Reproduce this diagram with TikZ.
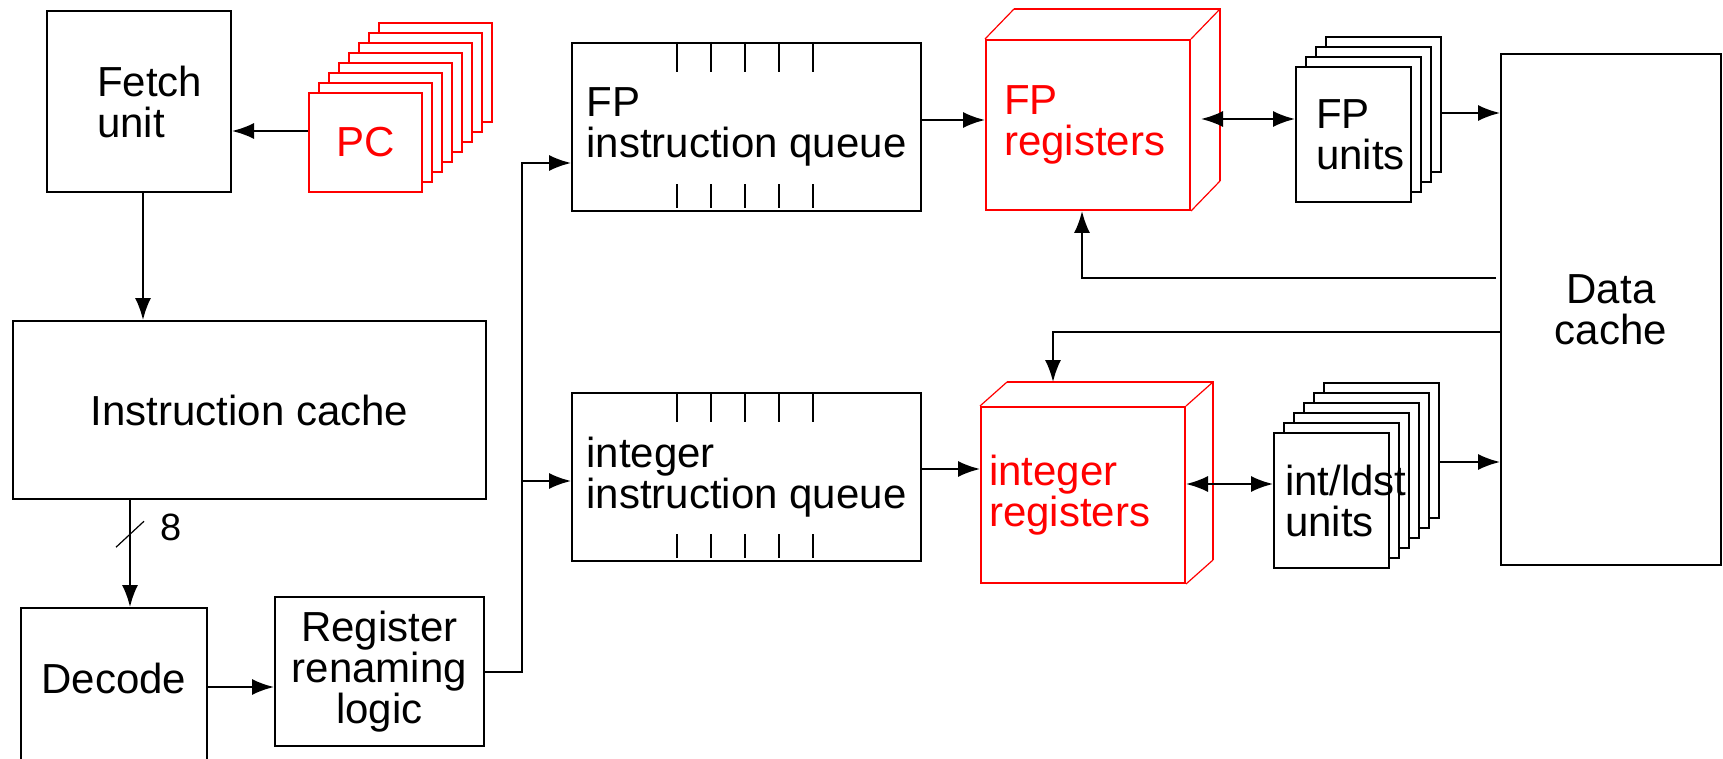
\documentclass[tikz,border=0pt]{standalone}
\usepackage{fontspec}
\setmainfont{Liberation Sans}
\usetikzlibrary{arrows.meta,calc}
\newcommand{\blockfont}{\fontsize{21}{20.5}\selectfont\hyphenpenalty=10000 }
\tikzset{
	blk/.style={rectangle, draw, line width=1pt, fill=white, inner sep=0pt, font=\blockfont},
	redblk/.style={blk, draw=red, text=red},
	arr/.style={line width=1pt, -{Latex[length=11pt,width=8pt]}},
	darr/.style={line width=1pt, {Latex[length=11pt,width=8pt]}-{Latex[length=11pt,width=8pt]}},
	depth/.style={draw=red, line width=0.6pt}
}

\begin{document}
\begin{tikzpicture}[x=0.5pt, y=-0.5pt]
    \useasboundingbox (0,0) rectangle (1723,759);
    % front end
    \node (fetch) [blk, minimum width=92pt, minimum height=90.5pt, text width=42pt, align=left] at (139,101.5) {Fetch\\unit};
    \foreach \k in {7,6,...,1}
        \node (pc\k) [redblk, minimum width=56.5pt, minimum height=49.5pt] at ({365.5+10*\k},{142.5-10*\k}) {};
    \node (pc) [redblk, minimum width=56.5pt, minimum height=49.5pt] at (365.5,142.5) {PC};
    \node (icache) [blk, minimum width=236.5pt, minimum height=89pt] at (249.5,410) {Instruction cache};
    \node (decode) [blk, minimum width=93pt, minimum height=81pt, text depth=11pt] at (114,689) {Decode};
    \node (ren) [blk, minimum width=104.5pt, minimum height=74.5pt, align=center] at (379.5,671.5) {Register\\renaming\\logic};
    % queues
    \node (fpq) [blk, minimum width=174.5pt, minimum height=84pt, align=left] at (746.5,127) {FP\\instruction queue};
    \node (intq) [blk, minimum width=174.5pt, minimum height=84pt, align=left] at (746.5,477) {integer\\instruction queue};
    \foreach \q in {fpq,intq}
        \foreach \t in {0,...,4} {
            \draw[line width=1pt] ([xshift={53pt+17pt*\t}]\q.north west) -- ++(0,30);
            \draw[line width=1pt] ([xshift={53pt+17pt*\t},yshift=2pt]\q.south west) -- ++(0,-24);
        }
    % register files
    \node (fpreg) [redblk, minimum width=102pt, minimum height=85pt, text width=84pt, align=left] at (1088,125) {FP\\registers};
    \coordinate (fptl) at ($(fpreg.north west)+(29,-30)$);
    \coordinate (fptr) at ($(fpreg.north east)+(29,-30)$);
    \coordinate (fpbr) at ($(fpreg.south east)+(29,-30)$);
    \draw[red, line width=1pt] (fptl) -- (fptr) -- (fpbr);
    \draw[depth] (fpreg.north west) -- (fptl) (fpreg.north east) -- (fptr) (fpreg.south east) -- (fpbr);
    \node (intreg) [redblk, minimum width=102pt, minimum height=88pt, text width=94pt, align=left] at (1083,495) {integer\\registers};
    \coordinate (inttl) at ($(intreg.north west)+(27,-24)$);
    \coordinate (inttr) at ($(intreg.north east)+(27,-24)$);
    \coordinate (intbr) at ($(intreg.south east)+(27,-24)$);
    \coordinate (inttop) at ($(intreg.north)+(-30,-24)$);
    \draw[red, line width=1pt] (inttl) -- (inttr) -- (intbr);
    \draw[depth] (intreg.north west) -- (inttl) (intreg.north east) -- (inttr) (intreg.south east) -- (intbr);
    % functional units
    \foreach \k in {3,2,1}
        \node (fpu\k) [blk, minimum width=57.5pt, minimum height=67.5pt] at ({1353.5+10*\k},{134.5-10*\k}) {};
    \node (fpu0) [blk, minimum width=57.5pt, minimum height=67.5pt, text width=37.5pt, align=left] at (1353.5,134.5) {FP\\units};
    \foreach \k in {5,4,...,1}
        \node (intu\k) [blk, minimum width=57.5pt, minimum height=67.5pt] at ({1331.5+10*\k},{500.5-10*\k}) {};
    \node (intu0) [blk, minimum width=57.5pt, minimum height=67.5pt, text width=46.5pt, align=left] at (1331.5,500.5) {int/ldst\\units};
    \node (dcache) [blk, minimum width=110pt, minimum height=255.5pt, align=center] at (1611,309.5) {Data\\cache};
    % connections
    \draw[arr] ([yshift=5.75pt]pc.west) -- ([yshift=5.75pt]pc.west -| fetch.east);
    \draw[arr] ([xshift=2pt]fetch.south) -- ([xshift=2pt]fetch.south |- icache.north);
    \draw[arr] ([xshift=8pt]decode.north |- icache.south) -- coordinate[pos=0.32] (bus) ([xshift=8pt]decode.north);
    \draw[line width=0.6pt] ($(bus)+(-14,13)$) -- ($(bus)+(14,-13)$);
    \node (buswidth) [font=\fontsize{19}{19}\selectfont, inner sep=0pt] at ($(bus)+(41,-7)$) {8};
    \draw[arr] ([yshift=1pt]decode.east) -- ([yshift=1pt]decode.east -| ren.west);
    \draw[arr] (ren.east) -- ++(37,0) |- ([yshift=-18pt]fpq.west);
    \draw[arr] (ren.east) ++(37,0) |- ([yshift=-2pt]intq.west);
    \draw[arr] ([yshift=3.5pt]fpq.east) -- ([yshift=3.5pt]fpq.east -| fpreg.west);
    \draw[arr] ([yshift=4pt]intq.east) -- ([yshift=4pt]intq.east -| intreg.west);
    \draw[darr] ([xshift=5pt,yshift=3pt]fpreg.east) -- ([yshift=3pt]fpreg.east -| fpu0.west);
    \draw[darr] ([yshift=5.5pt]intreg.east) -- ([yshift=5.5pt]intreg.east -| intu0.west);
    \draw[arr] ([yshift=-4.25pt]fpu3.east) -- ([yshift=-4.25pt]fpu3.east -| dcache.west);
    \draw[arr] ([yshift=-5.75pt]intu5.east) -- ([yshift=-5.75pt]intu5.east -| dcache.west);
    \draw[arr] ([xshift=-2pt,yshift=15.75pt]dcache.west) -| ([xshift=-3pt]fpreg.south);
    \draw[arr] ([yshift=-11.25pt]dcache.west) -| (inttop);
\end{tikzpicture}
\end{document}
